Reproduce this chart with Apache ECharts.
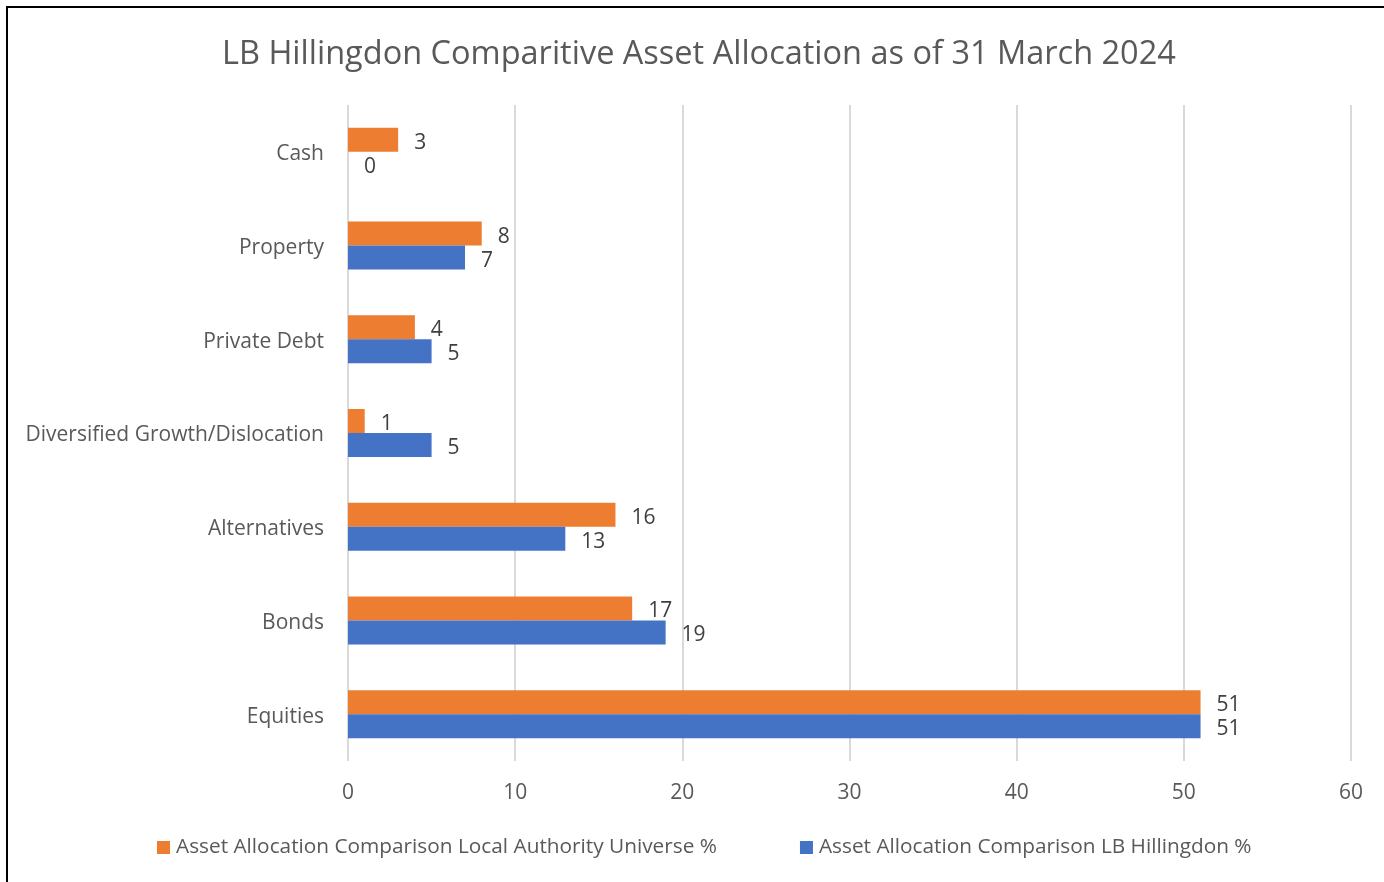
<!DOCTYPE html>
<html><head><meta charset="utf-8">
<script src="https://cdn.jsdelivr.net/npm/echarts@6/dist/echarts.min.js"></script>
<style>html,body{margin:0;padding:0;background:#fff}#c{width:1384px;height:882px}</style>
</head><body><div id="c"></div>
<script>
const categories = ['Equities','Bonds','Alternatives','Diversified Growth/Dislocation','Private Debt','Property','Cash'];
const universeValues = [51,17,16,1,4,8,3];
const hillingdonValues = [51,19,13,5,5,7,0];
const xTicks = [0,10,20,30,40,50,60];
const seriesNames = ['Asset Allocation Comparison Local Authority Universe %','Asset Allocation Comparison LB Hillingdon %'];
const FONT = 'Open Sans';
const chart = echarts.init(document.getElementById('c'));
chart.setOption({
  animation:false,
  textStyle:{fontFamily:FONT},
  title:{text:'LB Hillingdon Comparitive Asset Allocation as of 31 March 2024',left:217,top:33,
    textStyle:{fontFamily:FONT,fontSize:32.5,fontWeight:'normal',color:'#595959'}},
  graphic:[{type:'rect',shape:{x:7,y:7,width:1500,height:1000},style:{fill:'none',stroke:'#000',lineWidth:2}}],
  legend:{bottom:19,left:152,itemGap:83,itemWidth:13,itemHeight:13,icon:'rect',
    data:seriesNames,
    textStyle:{fontFamily:FONT,fontSize:20.8,color:'#595959',padding:[0,0,0,1]}},
  grid:{left:348,right:33,top:105,bottom:121,containLabel:false},
  xAxis:{type:'value',min:0,max:60,interval:10,
    axisLine:{show:false},axisTick:{show:false},
    splitLine:{lineStyle:{color:'#d9d9d9',width:2}},
    axisLabel:{fontFamily:FONT,fontSize:21,color:'#595959',margin:22,
      formatter:v=>xTicks.includes(v)?String(v):''}},
  yAxis:{type:'category',data:categories,
    axisLine:{show:false},axisTick:{show:false},
    axisLabel:{margin:24,formatter:v=>'{a|'+v+'}',
      rich:{a:{fontFamily:FONT,fontSize:21,color:'#595959',padding:[5,0,0,0]}}}},
  series:[
    {name:seriesNames[0],type:'bar',data:universeValues,barWidth:24,barGap:'0%',barCategoryGap:'48%',
      itemStyle:{color:'#ed7d31'},
      label:{show:true,position:'right',distance:16,offset:[0,3],fontFamily:FONT,fontSize:21,color:'#404040'}},
    {name:seriesNames[1],type:'bar',data:hillingdonValues,barWidth:24,barGap:'0%',
      itemStyle:{color:'#4472c4'},
      label:{show:true,position:'right',distance:16,offset:[0,3],fontFamily:FONT,fontSize:21,color:'#404040'}}
  ]
});
</script></body></html>
